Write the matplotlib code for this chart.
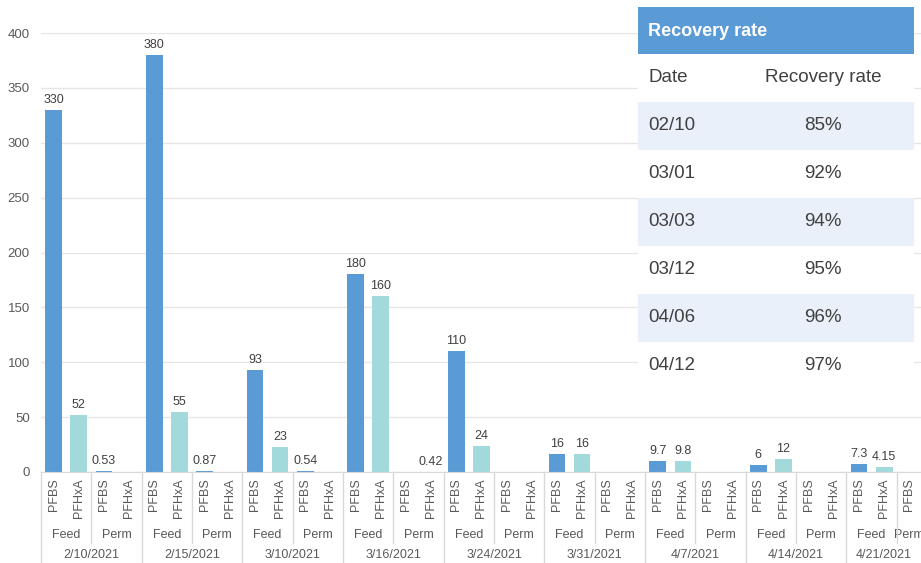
#!/usr/bin/env python3
"""
Grouped bar chart of PFBS / PFHxA concentrations with a recovery rate table.
"""
import numpy as np

import matplotlib.pyplot as plt
import matplotlib.transforms as mtransforms
from matplotlib.lines import Line2D
from matplotlib.patches import Rectangle

plt.rcParams['font.family'] = ['Liberation Sans', 'DejaVu Sans']

nan = np.nan

# Data
dates = ['2/10/2021', '2/15/2021', '3/10/2021', '3/16/2021', '3/24/2021',
         '3/31/2021', '4/7/2021', '4/14/2021', '4/21/2021']
streams = ['Feed', 'Perm']
compounds = ['PFBS', 'PFHxA']
feed_pfbs = [330, 380, 93, 180, 110, 16, 9.7, 6, 7.3]
feed_pfhxa = [52, 55, 23, 160, 24, 16, 9.8, 12, 4.15]
perm_pfbs = [0.53, 0.87, 0.54, nan, nan, nan, nan, nan, nan]
perm_pfhxa = [nan, nan, nan, 0.42, nan, nan, nan, nan, nan]
y_ticks = [0, 50, 100, 150, 200, 250, 300, 350, 400]

table_title = 'Recovery rate'
table_header = ['Date', 'Recovery rate']
recovery_dates = ['02/10', '03/01', '03/03', '03/12', '04/06', '04/12']
recovery_rates = ['85%', '92%', '94%', '95%', '96%', '97%']

colors = {'PFBS': '#5b9bd5', 'PFHxA': '#a2dadc'}
text_grey = '#595959'
line_grey = '#d9d9d9'

# Figure in pixel helpers
W, H = 921, 563
fig = plt.figure(figsize=(W / 100, H / 100), dpi=100)


def fx(px):
    return px / W


def fy(py):
    return 1 - py / H


ax = fig.add_axes([fx(41), fy(472), fx(921) - fx(41), fy(33) - fy(472)])

# Bars, one slot per (date, stream, compound)
series = {('Feed', 'PFBS'): feed_pfbs, ('Feed', 'PFHxA'): feed_pfhxa,
          ('Perm', 'PFBS'): perm_pfbs, ('Perm', 'PFHxA'): perm_pfhxa}
slots = []
for d in range(len(dates)):
    for s in streams:
        for c in compounds:
            slots.append((d, s, c))

xs = np.arange(len(slots))
vals = np.array([series[(s, c)][d] for d, s, c in slots], dtype=float)
cols = [colors[c] for d, s, c in slots]
ax.bar(xs, np.nan_to_num(vals), width=0.66, color=cols, zorder=2)
for x, v in zip(xs, vals):
    if np.isnan(v):
        continue
    ax.annotate(f'{v:g}', (x, v), xytext=(0, 4), textcoords='offset pixels',
                ha='center', va='bottom', fontsize=9, color='#404040')

slot_px = 25.17
xmax = -0.5 + 880 / slot_px
ax.set_xlim(-0.5, xmax)
ax.set_ylim(0, 400)
ax.set_yticks(y_ticks)
ax.set_xticks([])
ax.tick_params(axis='y', length=0, pad=8, labelsize=9.5, labelcolor=text_grey)
ax.yaxis.grid(True, color='#e6e6e6', lw=1)
ax.set_axisbelow(True)
for side in ['left', 'right', 'top']:
    ax.spines[side].set_visible(False)
ax.spines['bottom'].set_color(line_grey)

# Multi-level category axis
blend = mtransforms.blended_transform_factory(ax.transData, fig.transFigure)


def vis_center(a, b):
    return (a + min(b, xmax)) / 2


for x, (d, s, c) in zip(xs, slots):
    if x > xmax:
        continue
    ax.text(x, fy(478), c, transform=blend, rotation=90, ha='center',
            va='top', fontsize=9, color=text_grey)

for d in range(len(dates)):
    for k, s in enumerate(streams):
        a = 4 * d + 2 * k - 0.5
        if a >= xmax:
            continue
        ax.text(vis_center(a, a + 2), fy(535), s, transform=blend,
                ha='center', va='center', fontsize=9, color=text_grey)
        if k == 1:
            fig.add_artist(Line2D([a, a], [fy(472), fy(543)], transform=blend,
                                  color=line_grey, lw=1))
    a = 4 * d - 0.5
    ax.text(vis_center(a, a + 4), fy(555), dates[d], transform=blend,
            ha='center', va='center', fontsize=9, color=text_grey)
    fig.add_artist(Line2D([a, a], [fy(472), fy(563)], transform=blend,
                          color=line_grey, lw=1))

# Recovery rate table
tx0, tx1 = 638, 914
fig.add_artist(Rectangle((fx(tx0), fy(54)), fx(tx1) - fx(tx0), fy(7) - fy(54),
                         transform=fig.transFigure, color='#5b9bd5', lw=0))
fig.add_artist(Rectangle((fx(tx0), fy(390)), fx(tx1) - fx(tx0), fy(54) - fy(390),
                         transform=fig.transFigure, color='white', lw=0))
fig.text(fx(648), fy(31), table_title, color='white', fontsize=13,
         fontweight='bold', ha='left', va='center')
fig.text(fx(648), fy(78), table_header[0], color='#404040', fontsize=13.5,
         ha='left', va='center')
fig.text(fx(823), fy(78), table_header[1], color='#404040', fontsize=13.5,
         ha='center', va='center')
for i, (rd, rr) in enumerate(zip(recovery_dates, recovery_rates)):
    top = 102 + 48 * i
    if i % 2 == 0:
        fig.add_artist(Rectangle((fx(tx0), fy(top + 48)), fx(tx1) - fx(tx0),
                                 fy(top) - fy(top + 48),
                                 transform=fig.transFigure, color='#e9f0f9',
                                 lw=0))
    fig.text(fx(648), fy(top + 24), rd, color='#404040', fontsize=13.5,
             ha='left', va='center')
    fig.text(fx(823), fy(top + 24), rr, color='#404040', fontsize=13.5,
             ha='center', va='center')

fig.savefig('out.png', dpi=100)
